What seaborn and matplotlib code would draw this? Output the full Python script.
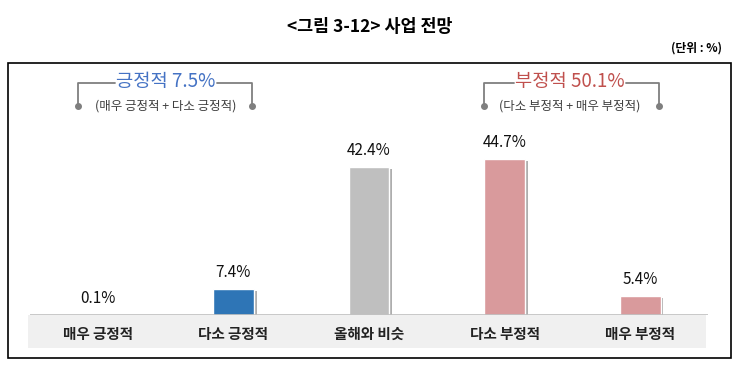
import matplotlib
matplotlib.use("Agg")
import matplotlib.pyplot as plt
import matplotlib.patheffects as pe
from matplotlib.patches import Rectangle
from matplotlib.lines import Line2D
import seaborn as sns
import pandas as pd

categories = ["매우 긍정적", "다소 긍정적", "올해와 비슷", "다소 부정적", "매우 부정적"]
values = [0.1, 7.4, 42.4, 44.7, 5.4]
value_labels = ["0.1%", "7.4%", "42.4%", "44.7%", "5.4%"]
bar_colors = ["#BFBFBF", "#2E75B6", "#BFBFBF", "#D99A9C", "#D99A9C"]
title = "<그림 3-12> 사업 전망"
unit = "(단위 : %)"
pos_title, pos_sub = "긍정적 7.5%", "(매우 긍정적 + 다소 긍정적)"
neg_title, neg_sub = "부정적 50.1%", "(다소 부정적 + 매우 부정적)"

sns.set_theme(style="white")
plt.rcParams['font.family'] = ['Noto Sans CJK KR', 'DejaVu Sans']

W, H = 740, 372
fig = plt.figure(figsize=(7.4, 3.72), dpi=100)

def fx(x): return x / W
def fy(y): return 1 - y / H

# frame
fig.patches.append(Rectangle((fx(8), fy(358)), (731 - 8) / W, (358 - 63) / H,
                             transform=fig.transFigure, fill=False, edgecolor="black", lw=1.2, zorder=-2))
# category band
fig.patches.append(Rectangle((fx(28), fy(348)), (706 - 28) / W, (348 - 315) / H,
                             transform=fig.transFigure, facecolor="#F0F0F0", edgecolor="none", zorder=-2))

ax = fig.add_axes([fx(30), fy(315), (708 - 30) / W, (315 - 70) / H])
ax.set_zorder(2)
ax.patch.set_alpha(0)
df = pd.DataFrame({"cat": categories, "val": values})
sns.barplot(data=df, x="cat", y="val", hue="cat", palette=bar_colors, width=0.3,
            legend=False, ax=ax, saturation=1)
for p in ax.patches:
    p.set_path_effects([pe.SimplePatchShadow(offset=(2, -1.5), shadow_rgbFace="#8C8C8C", alpha=0.7), pe.Normal()])
ax.set_xlim(-0.5, 4.5)
ax.set_ylim(0, 70.2)
for i, (v, lab) in enumerate(zip(values, value_labels)):
    ax.text(i, v + 2.2, lab, ha="center", va="bottom", fontsize=11, color="#111111", fontweight="medium")
ax.axhline(0, color="#BFBFBF", lw=1.2)
ax.set_xlabel("")
ax.set_ylabel("")
ax.set_yticks([])
ax.tick_params(axis="x", length=0, pad=8, labelsize=10.5)
for t in ax.get_xticklabels():
    t.set_fontweight("bold")
    t.set_color("#222222")
sns.despine(ax=ax, left=True, bottom=True)

# title and unit
fig.text(0.5, fy(27), title, ha="center", va="center", fontsize=12.5, color="black", fontweight="bold")
fig.text(fx(722), fy(48), unit, ha="right", va="center", fontsize=8.5, color="black", fontweight="bold")

renderer = fig.canvas.get_renderer()

def bracket(x0, x1, cx, ttl, sub, color):
    ytop, ybot = 83, 106
    t = fig.text(fx(cx), fy(ytop - 1), ttl, ha="center", va="center", fontsize=13.5, color=color,
                 fontweight="medium")
    tw = t.get_window_extent(renderer).width
    lc = "#7F7F7F"
    fig.lines.append(Line2D([fx(x0), fx(x0), fx(cx - tw / 2 - 1)], [fy(ybot), fy(ytop), fy(ytop)],
                            transform=fig.transFigure, color=lc, lw=1.3))
    fig.lines.append(Line2D([fx(cx + tw / 2 + 1), fx(x1), fx(x1)], [fy(ytop), fy(ytop), fy(ybot)],
                            transform=fig.transFigure, color=lc, lw=1.3))
    fig.lines.append(Line2D([fx(x0), fx(x1)], [fy(ybot), fy(ybot)], transform=fig.transFigure,
                            color=lc, lw=0, marker="o", markersize=4))
    fig.text(fx(cx), fy(ybot), sub, ha="center", va="center", fontsize=9, color="#404040")

bracket(78, 252, 166, pos_title, pos_sub, "#4472C4")
bracket(484, 659, 570, neg_title, neg_sub, "#C0504D")

fig.savefig("out.png", dpi=100)
